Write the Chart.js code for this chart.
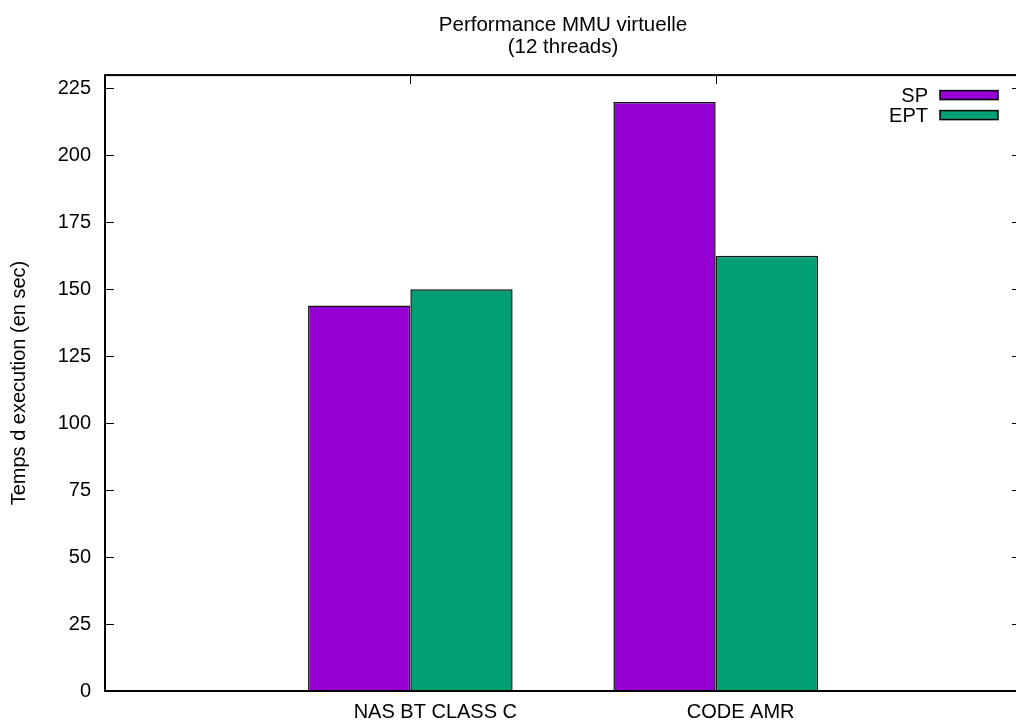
<!DOCTYPE html>
<html>
<head>
<meta charset="utf-8">
<style>
    body { margin: 0; background: #fff; overflow: hidden; }
    #wrap { width: 1016px; height: 721px; overflow: hidden; }
</style>
</head>
<body>
<div id="wrap">
    <canvas id="mmuChart" width="1030" height="721"></canvas>
</div>
<script src="https://cdn.jsdelivr.net/npm/chart.js"></script>
<script>
    // data
    var categories = ['', 'NAS BT CLASS C', 'CODE AMR', ''];
    var spValues = [null, 144, 220, null];
    var eptValues = [null, 150, 162.5, null];
    var yTickValues = [0, 25, 50, 75, 100, 125, 150, 175, 200, 225];
    var seriesNames = ['SP', 'EPT'];
    var seriesColors = ['#9400d3', '#009e73'];

    Chart.defaults.font.family = '"Liberation Sans", Arial, sans-serif';
    Chart.defaults.font.size = 20;
    Chart.defaults.color = '#000';

    // gnuplot style frame with inward ticks on all four sides
    var framePlugin = {
        id: 'frame',
        afterDatasetsDraw: function (chart) {
            var ctx = chart.ctx;
            var a = chart.chartArea;
            var xs = chart.scales.x, ys = chart.scales.y;
            var tick = 9;
            ctx.save();
            ctx.strokeStyle = '#000';
            ctx.lineWidth = 1;
            ctx.beginPath();
            ys.ticks.forEach(function (t, i) {
                var y = Math.round(ys.getPixelForTick(i)) + 0.5;
                ctx.moveTo(a.left, y); ctx.lineTo(a.left + tick, y);
                ctx.moveTo(a.right, y); ctx.lineTo(a.right - tick, y);
            });
            categories.forEach(function (c, i) {
                if (!c) return;
                var x = Math.round(xs.getPixelForValue(i)) + 0.5;
                ctx.moveTo(x, a.top); ctx.lineTo(x, a.top + tick);
            });
            ctx.stroke();
            ctx.lineWidth = 2;
            ctx.strokeRect(a.left, a.top, a.right - a.left, a.bottom - a.top);
            ctx.restore();
        }
    };

    // key in the top right corner: label then a sample box
    var keyPlugin = {
        id: 'key',
        afterDraw: function (chart) {
            var ctx = chart.ctx;
            var a = chart.chartArea;
            ctx.save();
            ctx.font = '20px "Liberation Sans", Arial, sans-serif';
            ctx.textAlign = 'right';
            ctx.textBaseline = 'middle';
            chart.data.datasets.forEach(function (ds, i) {
                var cy = a.top + 20 + i * 20;
                var boxRight = a.right - 23;
                var boxLeft = boxRight - 58;
                ctx.fillStyle = '#000';
                ctx.fillText(ds.label, boxLeft - 12, cy + 1);
                ctx.fillStyle = ds.backgroundColor;
                ctx.fillRect(boxLeft, cy - 4.5, 58, 9);
                ctx.lineWidth = 1.5;
                ctx.strokeStyle = '#000';
                ctx.strokeRect(boxLeft, cy - 4.5, 58, 9);
            });
            ctx.restore();
        }
    };

    var chart = new Chart(document.getElementById('mmuChart').getContext('2d'), {
        type: 'bar',
        data: {
            labels: categories,
            datasets: [{
                label: seriesNames[0],
                data: spValues,
                backgroundColor: seriesColors[0],
                borderColor: '#111',
                borderWidth: 1.5
            }, {
                label: seriesNames[1],
                data: eptValues,
                backgroundColor: seriesColors[1],
                borderColor: '#111',
                borderWidth: 1.5
            }]
        },
        options: {
            responsive: false,
            animation: false,
            devicePixelRatio: 1,
            categoryPercentage: 0.67,
            barPercentage: 1.0,
            layout: { padding: { left: 0, right: 9, top: 0, bottom: 0 } },
            plugins: {
                legend: { display: false },
                tooltip: { enabled: false },
                title: {
                    display: true,
                    fullSize: false,
                    text: ['Performance MMU virtuelle', '(12 threads)'],
                    font: { size: 20.5, weight: 'normal', lineHeight: 1.1 },
                    color: '#000',
                    padding: { top: 14, bottom: 16 }
                }
            },
            scales: {
                x: {
                    offset: false,
                    grid: { display: false, drawTicks: false },
                    border: { display: false },
                    ticks: { padding: 9, maxRotation: 0, autoSkip: false, labelOffset: 25 },
                    afterFit: function (scale) { scale.height = 30; }
                },
                y: {
                    min: 0,
                    max: 230,
                    grid: { display: false, drawTicks: false },
                    border: { display: false },
                    ticks: { padding: 14, includeBounds: false },
                    afterBuildTicks: function (scale) {
                        scale.ticks = yTickValues.map(function (v) { return { value: v }; });
                    },
                    title: {
                        display: true,
                        text: 'Temps d execution (en sec)',
                        font: { size: 20, lineHeight: 1.15 },
                        padding: { top: 8, bottom: 0 }
                    },
                    afterFit: function (scale) { scale.width = 105; }
                }
            }
        },
        plugins: [framePlugin, keyPlugin]
    });
</script>
</body>
</html>
